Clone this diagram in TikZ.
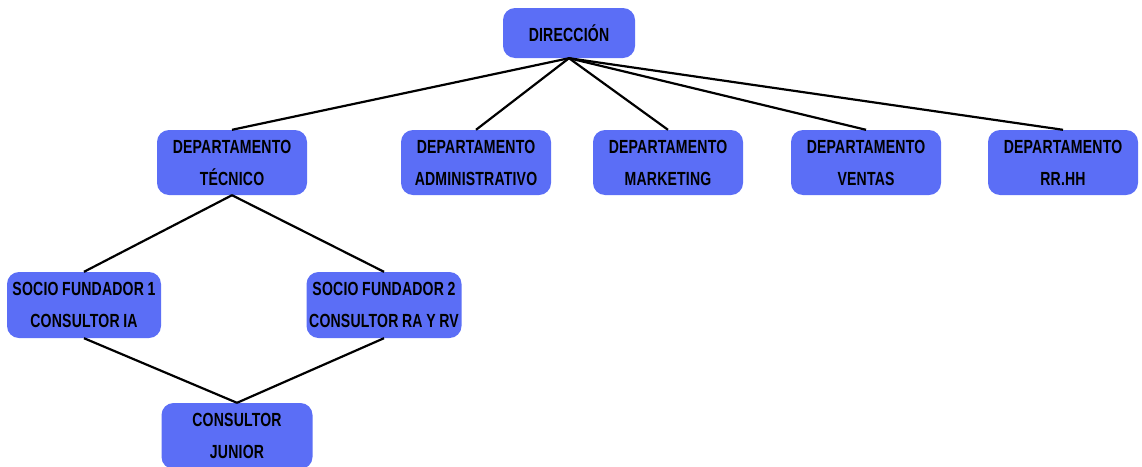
\documentclass[tikz,border=0pt]{standalone}
\usepackage{fontspec}
\setmainfont{Liberation Sans}[FakeStretch=0.74, WordSpace=0.9, LetterSpace=1,
  BoldFont={Liberation Sans Bold}, BoldFeatures={FakeStretch=0.74, WordSpace=0.9, LetterSpace=1}]
\definecolor{boxblue}{RGB}{91,110,246}
\begin{document}
\begin{tikzpicture}[x=1pt,y=-1pt,
  orgbox/.style={fill=boxblue, draw=none, rounded corners=12pt, align=center,
    inner sep=0pt, font=\fontsize{19}{32}\selectfont\bfseries, text=black},
  dept/.style={orgbox, minimum width=150pt, minimum height=65pt},
  link/.style={line width=2.2pt, black}]
\useasboundingbox (0,0) rectangle (1142,466);
\begin{scope}
\clip (0,0) rectangle (1142,466);
% top level
\node[orgbox, minimum width=132pt, minimum height=50pt] (dir) at (569,33) {DIRECCIÓN};
% departments
\node[dept] (tec) at (232,162.5) {DEPARTAMENTO\\TÉCNICO};
\node[dept] (adm) at (476,162.5) {DEPARTAMENTO\\ADMINISTRATIVO};
\node[dept] (mkt) at (668,162.5) {DEPARTAMENTO\\MARKETING};
\node[dept] (ven) at (866,162.5) {DEPARTAMENTO\\VENTAS};
\node[dept] (rrhh) at (1063,162.5) {DEPARTAMENTO\\RR.HH};
% technical staff
\node[orgbox, minimum width=154pt, minimum height=66pt] (soc1) at (84,305) {SOCIO FUNDADOR 1\\CONSULTOR IA};
\node[orgbox, minimum width=155pt, minimum height=66pt] (soc2) at (384,305) {SOCIO FUNDADOR 2\\CONSULTOR RA Y RV};
\node[orgbox, minimum width=151pt, minimum height=66pt] (jun) at (237,436) {CONSULTOR\\JUNIOR};
% connectors
\foreach \d in {tec,adm,mkt,ven,rrhh}
  \draw[link] (dir.south) -- (\d.north);
\draw[link] (tec.south) -- (soc1.north);
\draw[link] (tec.south) -- (soc2.north);
\draw[link] (soc1.south) -- (jun.north);
\draw[link] (soc2.south) -- (jun.north);
\end{scope}
\end{tikzpicture}
\end{document}
